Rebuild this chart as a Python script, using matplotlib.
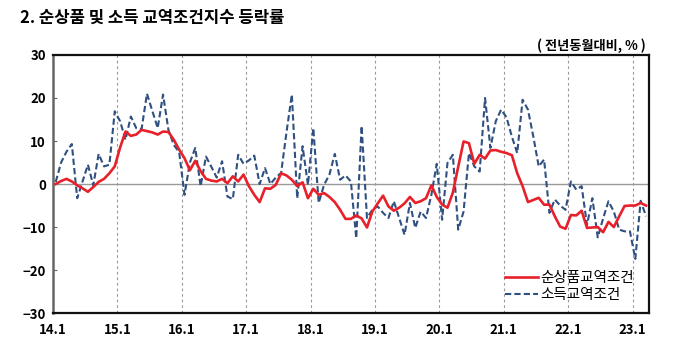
import matplotlib
matplotlib.use("Agg")
import matplotlib.pyplot as plt
import numpy as np

plt.rcParams['font.family'] = ['Noto Sans CJK KR', 'DejaVu Sans']

# Monthly data, Jan 2014 - Mar 2023 (YoY %)
red_2014 = [0.0, 0.7, 1.2, 0.6, -0.3, -1.0, -1.8, -0.7, 0.5, 1.2, 2.5, 4.1]
red_2015 = [8.5, 12.2, 11.2, 11.5, 12.6, 12.3, 12.0, 11.5, 12.2, 12.1, 10.3, 8.0]
red_2016 = [6.0, 3.2, 5.4, 3.0, 1.2, 0.8, 0.6, 1.2, 0.2, 1.8, 0.6, 2.2]
red_2017 = [-0.5, -2.5, -4.2, -1.0, -1.1, -0.2, 2.5, 2.0, 1.0, -0.5, 0.4, -3.3]
red_2018 = [-1.1, -2.5, -2.1, -3.0, -4.2, -6.0, -8.1, -8.1, -7.3, -8.0, -10.1, -6.4]
red_2019 = [-4.5, -2.7, -5.2, -6.2, -5.5, -4.5, -3.0, -4.4, -4.0, -3.3, -0.3, -3.0]
red_2020 = [-4.8, -5.5, -2.0, 4.0, 9.9, 9.5, 4.7, 6.8, 5.9, 7.8, 7.9, 7.5]
red_2021 = [7.2, 6.7, 2.5, -0.5, -4.2, -3.7, -3.2, -4.8, -4.8, -7.5, -9.9, -10.4]
red_2022 = [-7.2, -7.3, -6.2, -10.2, -10.1, -10.0, -11.2, -8.8, -10.0, -7.5, -5.1, -5.0]
red_2023 = [-5.0, -4.4, -5.0]

blue_2014 = [0.5, 5.0, 7.5, 9.3, -3.3, 0.6, 4.5, -0.3, 7.0, 4.1, 4.5, 16.9]
blue_2015 = [14.6, 10.3, 15.7, 13.0, 12.8, 21.0, 17.0, 13.0, 20.8, 12.6, 9.1, 7.4]
blue_2016 = [-2.5, 5.0, 8.4, -0.5, 6.4, 4.0, 1.5, 5.3, -2.9, -3.5, 6.8, 4.7]
blue_2017 = [5.5, 6.6, 0.0, 3.7, 0.0, 1.5, 2.6, 12.0, 20.8, -3.3, 8.8, -0.2]
blue_2018 = [13.0, -4.4, -0.2, 2.2, 7.0, 1.0, 2.0, 0.6, -12.6, 13.5, -7.9, -6.0]
blue_2019 = [-5.2, -6.7, -7.9, -4.0, -7.9, -11.8, -4.4, -10.2, -6.4, -7.9, -2.5, 4.7]
blue_2020 = [-8.3, 4.9, 6.8, -10.6, -6.4, 7.2, 4.1, 2.9, 20.0, 8.4, 14.6, 17.3]
blue_2021 = [15.5, 11.0, 7.2, 19.6, 17.3, 11.0, 4.1, 5.7, -6.7, -3.6, -5.0, -6.0]
blue_2022 = [0.6, -1.3, -0.5, -9.5, -3.3, -12.4, -8.0, -4.0, -6.4, -10.6, -11.0, -11.0]
blue_2023 = [-17.4, -3.9, -7.5]

red = (red_2014 + red_2015 + red_2016 + red_2017 + red_2018 + red_2019 +
       red_2020 + red_2021 + red_2022 + red_2023)
blue = (blue_2014 + blue_2015 + blue_2016 + blue_2017 + blue_2018 + blue_2019 +
        blue_2020 + blue_2021 + blue_2022 + blue_2023)

year_labels = ['14.1', '15.1', '16.1', '17.1', '18.1', '19.1', '20.1', '21.1', '22.1', '23.1']
series_names = ['순상품교역조건', '소득교역조건']
title = '2. 순상품 및 소득 교역조건지수 등락률'
unit = '( 전년동월대비, % )'

fig = plt.figure(figsize=(6.8, 3.57), dpi=100)
ax = fig.add_axes([0.078, 0.123, 0.876, 0.723])

x = np.arange(len(red))
ax.plot(x, red, color='#e8202a', lw=1.9, label=series_names[0], zorder=3)
ax.plot(x, blue, color='#2f5080', lw=1.5, ls=(0, (3, 1.5)), label=series_names[1], zorder=2)

ax.set_xlim(-0.5, len(red) - 0.5)
ax.set_ylim(-30, 30)
ax.set_yticks(np.arange(-30, 31, 10))
tick_pos = [12 * k - 0.5 for k in range(len(year_labels))]
ax.set_xticks(tick_pos)
ax.set_xticklabels(year_labels)
for p in tick_pos[1:]:
    ax.axvline(p, color='#999999', lw=0.8, ls=(0, (2.5, 2.5)), zorder=1)
ax.axhline(0, color='#999999', lw=1.0, zorder=1)

ax.tick_params(axis='x', length=0, pad=7, labelsize=9.5)
ax.tick_params(axis='y', direction='in', length=3, pad=5, labelsize=9.5, color='#666666')
for lab in ax.get_xticklabels() + ax.get_yticklabels():
    lab.set_fontweight('bold')

for s in ['top', 'right', 'bottom']:
    ax.spines[s].set_color('#111111')
    ax.spines[s].set_linewidth(1.6)
ax.spines['left'].set_color('#666666')
ax.spines['left'].set_linewidth(1.8)

leg = ax.legend(loc='lower right', bbox_to_anchor=(0.99, 0.01), frameon=False,
                fontsize=10.5, handlelength=2.3, handletextpad=0.15, labelspacing=0.2,
                borderaxespad=0.2)

fig.text(0.029, 0.95, title, fontsize=12, fontweight='bold', va='center', ha='left')
fig.text(0.949, 0.871, unit, fontsize=9.5, fontweight='bold', va='center', ha='right')

fig.savefig('out.png', dpi=100)
